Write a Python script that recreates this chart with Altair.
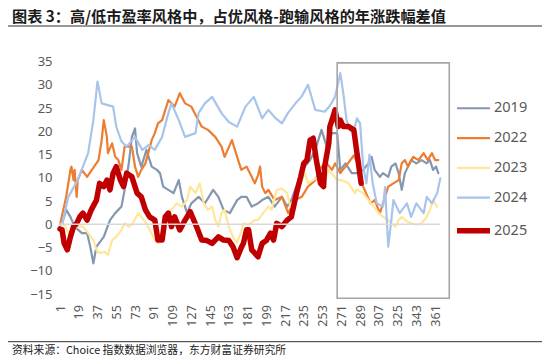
import altair as alt
import pandas as pd

years = ["2019", "2022", "2023", "2024", "2025"]
colors = ["#8497B0", "#ED7D31", "#FFE699", "#A9C4EB", "#C00000"]
widths = [2.2, 2.2, 2.2, 2.2, 5.5]

x_ticks = list(range(1, 362, 18))
y_ticks = list(range(-15, 36, 5))

x_2019 = [1, 3, 7, 11, 15, 22, 27, 30, 33, 36, 43, 49, 54, 60, 63, 67, 70, 73, 75, 79, 84, 89, 94, 97, 100, 105, 110, 115, 118, 123, 127, 134, 140, 148, 153, 158, 164, 171, 175, 180, 185, 191, 195, 201, 207, 214, 219, 223, 230, 236, 241, 246, 252, 257, 262, 267, 270, 275, 281, 286, 292, 297, 300, 303, 308, 311, 316, 319, 323, 326, 329, 332, 335, 338, 343, 348, 353, 356, 359, 362, 364]
v_2019 = [0, 0.2, 3.1, 1.6, -0.5, -1.9, -1.9, -4.8, -8.4, -4.8, -2.7, 0.9, 2.4, 3.8, 7.4, 13.1, 18.8, 20.6, 15.3, 12.4, 16, 12.4, 11.7, 11, 8.1, 7.4, 6.7, 9.5, 5.9, 2.4, 4.5, 5.9, 4.5, 7.4, 5.9, 3.1, 2.4, 5.2, 5.9, 5.9, 3.8, 4.5, 5.2, 5.9, 3.8, 5.9, 3.8, 5.2, 9.5, 12.4, 13.8, 16, 20.3, 16.7, 19.6, 19.6, 11.7, 13.1, 11, 11, 11.7, 13.1, 14.5, 11.7, 10.2, 11, 10.2, 12.4, 13.1, 11, 7.4, 11, 12.4, 13.8, 13.1, 13.8, 13.1, 13.8, 11.7, 12.4, 11]

x_2022 = [1, 2, 7, 11, 12, 14, 15, 17, 18, 22, 27, 38, 41, 43, 46, 47, 51, 54, 57, 60, 63, 70, 73, 76, 79, 83, 89, 92, 95, 99, 105, 108, 111, 116, 121, 127, 132, 137, 143, 150, 156, 159, 166, 171, 175, 180, 185, 188, 191, 193, 195, 198, 201, 207, 214, 220, 227, 233, 239, 246, 252, 257, 262, 265, 270, 275, 281, 283, 287, 292, 299, 303, 308, 311, 316, 321, 326, 329, 332, 335, 340, 345, 350, 354, 358, 361, 364]
v_2022 = [0, 0.9, 6, 11.7, 12.4, 9.5, 11.7, 5.9, 9.5, 11.7, 10.2, 13.8, 18.1, 22.4, 18.8, 15.3, 17.4, 14.5, 13.8, 11.7, 16.7, 16.7, 12.4, 10.2, 11.7, 13.1, 18.1, 19.6, 21.7, 22.4, 26.7, 26, 25.3, 28.2, 26, 25.3, 23.1, 21, 20.3, 18.8, 16.7, 14.5, 18.1, 14.5, 11.7, 12.4, 10.2, 8.8, 10.5, 12.4, 8.1, 6.7, 7.4, 5.2, 5.9, 2.4, 5.2, 5.9, 8.1, 9.5, 12.4, 13.1, 11.7, 13.1, 11, 12.4, 14.2, 14.8, 13, 8.1, 4.5, 5.2, 2.4, 4.5, 8.1, 8.8, 9.5, 13.1, 13.8, 12.4, 14.5, 13.8, 15.3, 13.8, 15.3, 13.8, 13.8]

x_2023 = [1, 3, 6, 9, 12, 18, 23, 28, 33, 36, 39, 44, 47, 51, 55, 60, 63, 67, 71, 76, 79, 84, 87, 92, 95, 98, 102, 108, 113, 118, 123, 126, 131, 135, 139, 143, 147, 150, 153, 156, 159, 163, 167, 171, 175, 177, 182, 188, 191, 196, 201, 204, 209, 214, 219, 222, 227, 230, 236, 239, 244, 249, 254, 259, 263, 267, 271, 278, 284, 286, 292, 297, 302, 307, 311, 316, 319, 323, 326, 329, 334, 338, 343, 348, 353, 356, 359, 363]
v_2023 = [0, 0.2, -0.5, -1.9, -1.2, -0.5, -0.5, -1.9, -3.4, -5.5, -6.2, -5.9, -6.6, -3.4, -2.7, -1.2, 0.2, -0.5, 0.2, 2.4, 1.6, 0.2, -1.2, -3.4, -4.1, -2, 0.9, 3.1, 4.5, 3.8, 5.2, 8.1, 6.7, 8.8, 4.5, 3.1, 3.8, 0.9, -0.5, 2.4, 3.1, -0.5, -2.7, -4, -1.5, 0.2, -0.1, 0.9, 0.9, 2.4, 3.8, 3.1, 7.4, 7.7, 6.7, 3.8, 4.5, 8.1, 11, 8.8, 9.5, 10.2, 8.8, 11.7, 10.6, 9.5, 9.5, 8.8, 6.7, 7.5, 6.7, 5.2, 3.8, 2.4, 1.6, 0.9, 0.2, -0.5, 0.9, 1.6, 0.6, 0.2, -0.1, 0.2, 1.6, 3.1, 5.2, 3.8]

x_2024 = [1, 3, 9, 18, 28, 33, 37, 41, 52, 55, 60, 65, 73, 80, 86, 92, 99, 105, 108, 115, 121, 131, 134, 140, 147, 156, 163, 171, 179, 187, 193, 195, 201, 207, 214, 220, 227, 233, 239, 246, 255, 260, 265, 270, 273, 276, 280, 284, 286, 289, 292, 295, 298, 301, 305, 311, 313, 316, 319, 321, 327, 334, 338, 343, 350, 353, 358, 363, 366]
v_2024 = [0, 0, 5.9, 9.5, 15.3, 22.4, 30.7, 26, 25.3, 21, 17.8, 16.7, 18.8, 16, 17, 16, 18.8, 23.9, 26, 22.4, 18.8, 19.6, 23.9, 26, 27.4, 23.9, 22, 21, 25.3, 27.4, 23.9, 22.8, 24.6, 23, 21.7, 24, 26, 27.5, 30, 24.6, 24.2, 25.5, 27.4, 32.5, 28, 22.4, 20, 21, 22.8, 21.7, 12.4, 8.8, 15, 9, 4.5, 3.8, 8, -4.8, 0.9, 5.2, 2.4, 4.5, 1.6, 4.5, 2.4, 5.9, 4.5, 6.7, 9.9]

x_2025 = [1, 3, 5, 8, 11, 14, 17, 20, 23, 27, 31, 36, 39, 43, 46, 49, 52, 55, 59, 62, 65, 70, 75, 79, 83, 87, 92, 95, 99, 102, 105, 108, 111, 116, 121, 126, 132, 137, 142, 147, 153, 158, 163, 167, 171, 175, 177, 180, 182, 185, 188, 191, 195, 199, 203, 206, 209, 214, 219, 223, 228, 232, 235, 238, 241, 244, 247, 251, 254, 255, 259, 260, 263, 265, 268, 270, 273, 278, 283, 286, 287, 290]
v_2025 = [-1, -1.2, -4.1, -5.5, -2.7, -0.5, 0.2, 1.6, 2.4, 0.9, 3.1, 5.2, 8.8, 8.1, 9.5, 7.4, 11, 12.4, 9.5, 8.1, 11, 10.2, 6.7, 5.9, 3.1, 1.6, 0.9, -3.4, -3.4, 1.6, 2.4, -0.5, 1.6, -1.2, 0.9, 2.7, -0.5, -3.4, -3.5, -4.1, -2.7, -3.4, -3.5, -4.8, -7.2, -5, -4.1, -1.2, -1.2, -5.5, -6.2, -7, -4.1, -3.5, -1.9, -3.4, 0.2, -0.5, 0.9, 1.6, 6.7, 10.2, 13.1, 13.8, 18.1, 18.5, 13.8, 8.8, 8.1, 12.4, 17.4, 21, 23.1, 24.6, 21, 22.4, 21, 21, 20.3, 15.3, 13.8, 8.8]

zero_x = [1, 366]
box_x = [267, 374.6]
box_y = [-15.9, 34.7]

title_text = "图表 3：高/低市盈率风格中，占优风格-跑输风格的年涨跌幅差值"
source_text = "资料来源：Choice 指数数据浏览器，东方财富证券研究所"

series = {"2019": (x_2019, v_2019), "2022": (x_2022, v_2022), "2023": (x_2023, v_2023),
          "2024": (x_2024, v_2024), "2025": (x_2025, v_2025)}
rows = []
for yr, (xs, vs) in series.items():
    for a, b in zip(xs, vs):
        rows.append({"year": yr, "day": a, "value": b})
df = pd.DataFrame(rows)

xscale = alt.Scale(domain=[-3.8, 375.3], nice=False, zero=False)
yscale = alt.Scale(domain=[-16, 35], nice=False, zero=False)

x_axis = alt.Axis(values=x_ticks, tickCount=len(x_ticks), labelAngle=270, format="d", title=None,
                  domain=False, ticks=False, grid=False, labelFontSize=12.5, labelColor="#595959",
                  labelFont="Noto Sans", labelPadding=6, labelOverlap=False)
y_axis = alt.Axis(values=y_ticks, tickCount=len(y_ticks), title=None, domain=False, ticks=False,
                  grid=False, labelFontSize=13, labelColor="#595959", labelFont="Noto Sans",
                  labelPadding=3, labelOverlap=False)

leg = dict(orient="none", legendX=410, legendY=39.5, title=None,
           symbolType="M-3,0H3", symbolSize=121, labelFontSize=14.5,
           labelFont="Noto Sans", labelColor="#595959", labelOffset=12, rowPadding=14.8)

lines = alt.Chart(df).mark_line(strokeJoin="round", strokeCap="round").encode(
    x=alt.X("day:Q", scale=xscale, axis=x_axis),
    y=alt.Y("value:Q", scale=yscale, axis=y_axis),
    color=alt.Color("year:N", scale=alt.Scale(domain=years, range=colors), legend=alt.Legend(**leg)),
    strokeWidth=alt.StrokeWidth("year:N", scale=alt.Scale(type="ordinal", domain=years, range=widths),
                                legend=alt.Legend(**leg)),
)

zero_df = pd.DataFrame({"day": [zero_x[0]], "day2": [zero_x[1]], "value": [0]})
zero_rule = alt.Chart(zero_df).mark_rule(color="#D9D9D9", strokeWidth=1.5).encode(
    x=alt.X("day:Q", scale=xscale), x2="day2:Q",
    y=alt.Y("value:Q", scale=yscale))

box_df = pd.DataFrame({"x1": [box_x[0]], "x2": [box_x[1]], "y1": [box_y[0]], "y2": [box_y[1]]})
box = alt.Chart(box_df).mark_rect(fillOpacity=0, stroke="#A6A6A6", strokeWidth=1.6).encode(
    x=alt.X("x1:Q", scale=xscale), x2="x2:Q", y=alt.Y("y1:Q", scale=yscale), y2="y2:Q")

deco_df = pd.DataFrame({"t": [source_text]})
top_rule = alt.Chart(deco_df).mark_rule(color="#333333", strokeWidth=1).encode(
    x=alt.value(-47), x2=alt.value(487), y=alt.value(-35.5))
bot_rule = alt.Chart(deco_df).mark_rule(color="#333333", strokeWidth=1).encode(
    x=alt.value(-47), x2=alt.value(487), y=alt.value(280.2))
source = alt.Chart(deco_df).mark_text(align="left", baseline="middle", fontSize=10.8,
                                      font="Noto Sans CJK SC", color="#222222").encode(
    text="t:N", x=alt.value(-43), y=alt.value(289.5))

chart = alt.layer(lines, zero_rule, box, top_rule, bot_rule, source).properties(
    width=395, height=237.2,
    autosize=alt.AutoSizeParams(type="none"),
    padding={"left": 47, "top": 53.5, "right": 92, "bottom": 60.3},
    title=alt.Title(title_text, anchor="start", frame="group", dx=-43, offset=0.5,
                    fontSize=15.2, font="Noto Sans CJK SC", fontWeight="bold", color="#1a1a1a"),
).configure_view(stroke=None).configure_axis(labelOverlap=False)

chart.save("out.html", embed_options={"renderer": "svg", "actions": False})
